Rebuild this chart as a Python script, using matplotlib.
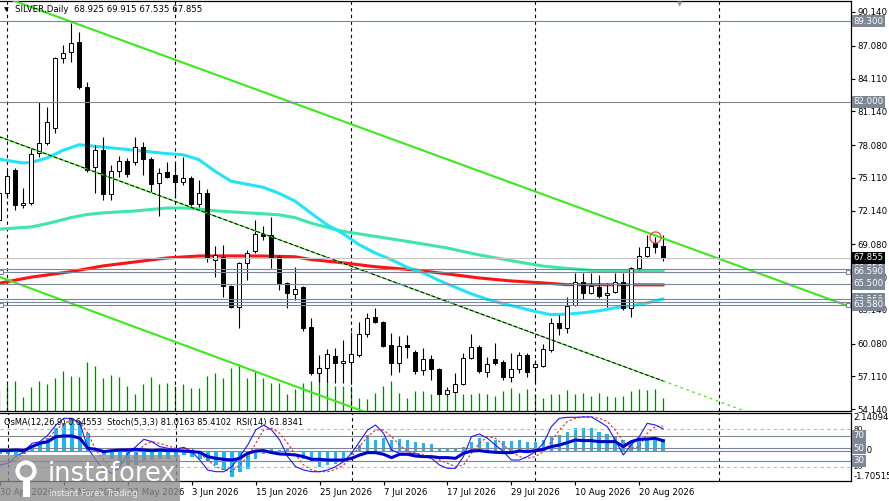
import numpy as np
import matplotlib.pyplot as plt
from matplotlib.patches import Rectangle, Circle
from matplotlib.transforms import blended_transform_factory as blend

plt.rcParams['font.family'] = ['DejaVu Sans']

# daily bars, weekdays only: index -1 = 30 Apr 2026, 0 = 1 May 2026, 82 = 25 Aug 2026
bar_idx = np.arange(-1, 83)

opens = [71.30, 73.73, 75.81, 72.64, 72.82, 77.36, 78.26, 79.62, 85.97, 86.51,
         87.42, 83.34, 76.09, 77.63, 73.64, 75.72, 76.63, 76.54, 77.90, 76.81,
         74.64, 75.63, 75.36, 74.73, 75.09, 72.73, 73.73, 67.66, 67.93, 65.30,
         63.39, 67.38, 68.47, 70.01, 69.92, 67.93, 65.57, 64.57, 65.21, 61.58,
         57.41, 57.87, 58.95, 58.32, 58.41, 59.04, 60.95, 62.49, 62.04, 59.95,
         58.32, 59.95, 59.32, 57.68, 58.68, 57.78, 55.51, 55.69, 56.41, 58.77,
         59.77, 57.50, 58.68, 58.41, 57.05, 57.78, 59.04, 57.96, 58.05, 59.50,
         61.94, 61.49, 63.58, 65.66, 64.66, 65.21, 64.48, 64.75, 65.66, 63.30,
         66.93, 68.02, 69.20, 68.925]
highs = [74.20, 75.80, 75.99, 74.18, 77.81, 81.98, 81.53, 86.06, 87.15, 89.14,
         88.33, 83.79, 78.08, 78.81, 76.27, 77.08, 76.90, 78.81, 78.35, 76.99,
         76.00, 76.54, 76.45, 76.99, 75.27, 74.91, 74.09, 68.93, 69.02, 65.39,
         67.47, 68.56, 71.28, 70.74, 71.55, 68.11, 65.66, 67.02, 65.30, 62.40,
         59.04, 59.59, 59.68, 60.40, 61.13, 62.04, 62.85, 63.30, 62.13, 61.04,
         60.77, 60.86, 59.50, 59.68, 59.04, 57.87, 56.14, 57.41, 59.22, 60.95,
         59.95, 58.86, 60.13, 58.59, 59.22, 59.32, 59.22, 58.59, 60.04, 62.40,
         62.67, 64.30, 66.48, 66.48, 66.48, 66.30, 65.57, 66.48, 66.48, 67.02,
         68.83, 69.92, 69.74, 69.915]
lows = [70.80, 73.30, 72.19, 72.37, 72.64, 76.99, 78.08, 79.17, 85.52, 85.61,
        83.16, 75.63, 73.73, 73.10, 73.10, 75.18, 75.18, 76.27, 75.36, 73.82,
        71.65, 75.09, 73.28, 74.46, 72.55, 72.46, 67.47, 66.12, 64.30, 63.30,
        61.49, 65.84, 68.29, 69.47, 66.93, 64.94, 63.30, 64.03, 61.22, 57.23,
        56.59, 56.59, 56.50, 56.50, 56.50, 58.86, 60.68, 61.94, 59.77, 57.23,
        57.50, 58.77, 57.32, 57.23, 56.78, 55.42, 55.42, 55.60, 56.32, 58.68,
        57.41, 57.05, 58.14, 56.78, 56.59, 57.41, 57.05, 56.50, 57.96, 59.32,
        60.86, 61.04, 63.49, 64.12, 64.57, 64.21, 63.39, 64.66, 63.12, 62.49,
        66.75, 67.93, 68.29, 67.535]
closes = [73.73, 75.27, 72.64, 72.82, 77.27, 78.26, 80.17, 85.97, 86.42, 87.33,
          83.34, 75.81, 77.63, 73.64, 75.72, 76.63, 75.45, 77.90, 76.81, 74.55,
          75.54, 75.18, 74.73, 75.09, 72.73, 73.73, 67.84, 68.11, 65.30, 63.39,
          67.38, 68.29, 70.01, 69.83, 67.93, 65.57, 64.66, 65.03, 61.49, 57.41,
          57.87, 59.13, 58.32, 58.50, 59.13, 60.95, 62.40, 62.04, 59.86, 58.32,
          59.86, 59.77, 57.59, 58.68, 57.78, 55.51, 55.87, 56.41, 58.77, 59.77,
          57.59, 58.23, 58.32, 57.05, 57.78, 59.04, 57.50, 58.23, 59.59, 61.94,
          61.49, 63.49, 65.66, 64.66, 65.30, 64.39, 64.66, 65.66, 63.30, 66.93,
          68.02, 68.83, 68.83, 67.855]
volume_k = [20, 27, 30, 14, 24, 30, 27, 33, 40, 35,
            34, 49, 45, 33, 36, 34, 25, 17, 27, 34,
            27, 28, 25, 27, 23, 23, 35, 38, 33, 43,
            47, 33, 40, 33, 28, 28, 17, 22, 28, 30,
            45, 30, 25, 25, 25, 13, 12, 18, 25, 30,
            18, 13, 20, 20, 17, 18, 17, 18, 17, 17,
            18, 17, 15, 20, 23, 18, 22, 17, 13, 17,
            17, 21, 17, 18, 15, 18, 15, 14, 15, 20,
            22, 21, 22, 13]

# moving averages, read at selected bars
ma_fast_idx = [-1, 2, 3, 5, 7, 9, 12, 16, 20, 22, 24, 26, 28, 32, 34, 36, 38, 40, 42, 44,
               46, 48, 50, 52, 54, 56, 58, 60, 62, 64, 66, 68, 70, 72, 74, 76, 78, 80, 82]
ma_fast = [76.80, 76.45, 76.50, 76.90, 77.60, 78.10, 77.90, 77.60, 77.30, 77.20,
           76.75, 75.70, 74.80, 74.25, 73.70, 73.00, 71.90, 70.85, 70.05, 69.05,
           68.30, 67.70, 67.00, 66.50, 65.80, 65.20, 64.60, 64.10, 63.70, 63.35,
           63.00, 62.70, 62.75, 62.87, 63.05, 63.32, 63.50, 63.76, 64.12]
ma_mid_idx = [-1, 3, 5, 8, 10, 12, 16, 20, 22, 24, 26, 28, 32, 34, 36, 38, 42, 46, 50, 55,
              59, 63, 67, 70, 74, 78, 82]
ma_mid = [70.45, 70.65, 70.95, 71.50, 71.78, 71.93, 72.10, 72.37, 72.37, 72.28,
          72.12, 72.02, 71.85, 71.75, 71.50, 71.00, 70.25, 69.80, 69.35, 68.75,
          68.12, 67.60, 67.10, 66.90, 66.66, 66.66, 66.66]
ma_slow_idx = [-1, 3, 8, 12, 16, 20, 24, 28, 32, 36, 38, 42, 46, 51, 55, 59, 63, 67, 70, 82]
ma_slow = [65.55, 66.10, 66.60, 67.12, 67.48, 67.84, 68.02, 68.03, 68.02, 67.95,
           67.70, 67.40, 67.05, 66.75, 66.40, 66.03, 65.76, 65.58, 65.42, 65.40]

# channel anchors (bar index, price)
chan_upper = ([8.125, 105.5], [89.23, 63.39])
chan_mid = ([-0.875, 69.125], [78.81, 60.13])
chan_lower = ([-0.875, 36.625], [66.11, 56.05])

levels = [89.30, 82.00, 66.85, 66.59, 65.50, 64.10, 63.85, 63.58]
handle_levels = [66.59, 63.58]
last_price = 67.855
price_ticks = [54.14, 57.11, 60.08, 63.14, 66.11, 69.08, 72.14, 75.11, 78.08, 81.14,
               84.11, 87.08, 90.14]
separators = [0, 21, 43, 66, 89]
date_idx = [-1, 7, 15, 23, 31, 39, 47, 55, 63, 71, 79]
date_labels = ['30 Apr 2026', '12 May 2026', '22 May 2026', '3 Jun 2026', '15 Jun 2026',
               '25 Jun 2026', '7 Jul 2026', '17 Jul 2026', '29 Jul 2026', '10 Aug 2026',
               '20 Aug 2026']

# oscillators
osma = [-0.15, -0.15, -0.30, -0.20, 0.13, 0.42, 0.71, 1.28, 1.57, 1.85,
        1.66, 0.99, 0.10, -0.25, -0.44, -0.73, -0.82, -0.82, -0.63, -0.54,
        -0.44, -0.44, -0.34, -0.25, -0.34, -0.44, -0.63, -0.82, -1.11, -1.49,
        -1.21, -1.01, -0.44, -0.15, 0.10, 0.05, 0.10, -0.05, -0.44, -0.63,
        -0.92, -0.82, -0.73, -0.44, -0.25, 0.32, 0.90, 0.61, 0.71, 0.61,
        0.67, 0.61, 0.52, 0.46, 0.38, 0.17, 0.13, 0.10, 0.23, 0.52,
        0.71, 0.52, 0.61, 0.57, 0.57, 0.61, 0.52, 0.52, 0.61, 0.80,
        0.90, 1.05, 1.28, 1.28, 1.28, 1.09, 0.94, 0.86, 0.61, 0.52,
        0.67, 0.67, 0.67, 0.646]
stoch_main = [23.0, 25.8, 36.5, 44.5, 57.8, 60.5, 71.1, 87.1, 97.8, 97.8,
              89.8, 49.8, 31.1, 15.1, 9.8, 20.5, 41.8, 52.5, 64.2, 60.5,
              52.5, 49.8, 48.2, 51.4, 44.5, 31.1, 15.1, 12.4, 12.4, 20.5,
              36.5, 55.1, 79.1, 87.1, 79.1, 63.1, 36.5, 20.5, 15.1, 12.4,
              12.4, 15.1, 20.5, 28.5, 41.8, 60.5, 79.1, 87.1, 73.8, 47.1,
              41.8, 41.8, 41.8, 36.5, 33.8, 23.1, 17.8, 17.8, 36.5, 68.5,
              72.7, 65.8, 55.1, 44.5, 31.1, 31.1, 36.5, 44.5, 57.8, 84.5,
              97.8, 99.4, 99.4, 100.0, 100.0, 92.5, 84.5, 63.1, 39.1, 55.1,
              68.5, 89.8, 87.1, 81.0163]
stoch_signal = [23.0, 25.8, 31.1, 41.8, 52.5, 57.8, 65.8, 79.1, 89.8, 95.1,
                92.5, 73.8, 47.1, 31.1, 17.8, 15.1, 23.1, 39.1, 55.1, 60.5,
                57.8, 53.5, 49.8, 49.8, 48.2, 41.8, 31.1, 20.5, 15.1, 12.4,
                23.1, 36.5, 57.8, 79.1, 81.8, 73.8, 57.8, 39.1, 23.1, 15.1,
                12.4, 12.4, 16.2, 23.1, 36.5, 52.5, 68.5, 79.1, 79.1, 68.5,
                55.1, 44.5, 41.8, 39.1, 36.5, 31.1, 25.8, 20.5, 23.1, 41.8,
                57.8, 68.5, 65.8, 55.1, 44.5, 36.5, 33.8, 36.5, 44.5, 60.5,
                79.1, 92.5, 97.8, 100.0, 100.0, 97.8, 92.5, 79.1, 60.5, 49.8,
                52.5, 73.8, 84.5, 85.4102]
rsi = [46.1, 46.1, 47.1, 46.1, 52.5, 57.8, 60.5, 68.5, 69.5, 69.5,
       65.8, 49.8, 48.2, 44.5, 46.1, 47.1, 47.1, 48.2, 47.1, 46.1,
       47.1, 46.1, 46.1, 45.5, 44.5, 43.4, 36.5, 33.8, 32.2, 31.1,
       33.8, 41.8, 45.5, 46.1, 42.9, 40.7, 40.2, 39.1, 36.5, 32.2,
       32.2, 31.1, 31.1, 31.1, 33.8, 39.1, 42.9, 42.9, 40.2, 34.9,
       40.2, 40.2, 37.5, 36.5, 36.5, 34.9, 34.9, 33.8, 41.8, 45.5,
       46.1, 44.5, 43.4, 42.9, 42.9, 45.5, 44.5, 46.1, 48.2, 52.5,
       55.1, 58.9, 63.1, 62.1, 62.1, 60.5, 60.5, 60.5, 52.5, 60.5,
       64.2, 64.7, 65.8, 61.8341]

W, H = 889, 501
LEVEL_C = '#7b8797'
BOX_C = '#7d8796'
FS = 6.2


def rect(x0, y0, x1, y1):
    return [x0 / W, 1 - y1 / H, (x1 - x0) / W, (y1 - y0) / H]


fig = plt.figure(figsize=(W / 100, H / 100), dpi=100)
ax = fig.add_axes(rect(0, 1, 851, 411))
ax_vol = ax.twinx()
ax.set_zorder(ax_vol.get_zorder() + 1)
ax.patch.set_visible(False)
ax_ind = fig.add_axes(rect(0, 413, 851, 481))
ax_osc = ax_ind.twinx()

x_lo, x_hi = -0.875, 105.5
for a in (ax, ax_ind):
    a.set_xlim(x_lo, x_hi)
ax.set_ylim(53.967, 91.137)
ax_vol.set_ylim(0, 410)
ax_ind.set_ylim(-1.70515, 2.14094)
ax_osc.set_ylim(-2.5, 106.3)

# volume
ax_vol.vlines(bar_idx, 0, volume_k, color='#0b7d0b', lw=0.9)

# moving averages
ax.plot(ma_mid_idx, ma_mid, color='#3ee6a8', lw=2.2, zorder=2)
ax.plot(ma_slow_idx, ma_slow, color='#ff1414', lw=2.2, zorder=2)
ax.plot(ma_fast_idx, ma_fast, color='#22e4f7', lw=2.2, zorder=2)

# candles
o, h, l, c = map(np.array, (opens, highs, lows, closes))
up = c >= o
ax.vlines(bar_idx, l, h, color='black', lw=0.8, zorder=4)
ax.bar(bar_idx, np.maximum(np.abs(c - o), 0.08), bottom=np.minimum(o, c), width=0.62,
       color=np.where(up, 'white', 'black'), edgecolor='black', linewidth=0.7, zorder=5)


def chan_line(anchor, x0, x1):
    (xa, xb), (ya, yb) = anchor
    k = (yb - ya) / (xb - xa)
    xs = np.array([x0, x1])
    return xs, ya + k * (xs - xa)


xs, ys = chan_line(chan_upper, -1, 106)
ax.plot(xs, ys, color='#3aea1a', lw=1.5, zorder=6)
xs, ys = chan_line(chan_lower, -1, 60)
ax.plot(xs, ys, color='#3aea1a', lw=1.5, zorder=6)
xs, ys = chan_line(chan_mid, -1, bar_idx[-1])
ax.plot(xs, ys, color='#3aea1a', lw=0.9, zorder=6)
ax.plot(xs, ys, color='black', lw=0.7, ls=(0, (4, 2)), zorder=6)
xs, ys = chan_line(chan_mid, bar_idx[-1], 106)
ax.plot(xs, ys, color='#3aea1a', lw=0.9, ls=(0, (2, 3)), zorder=6)

# horizontal levels
ax.axhline(last_price, color='#c4c4c4', lw=0.8, zorder=6)
for lv in levels:
    ax.axhline(lv, color=LEVEL_C, lw=0.8, zorder=6)
ax.plot([x_lo + 0.12] * 2 + [x_hi - 0.35] * 2, handle_levels * 2, ls='none', marker='s',
        ms=3.5, mfc='white', mec=LEVEL_C, mew=0.8, zorder=7, clip_on=False)

# arrow mark at the high of 24 Aug
ax.plot(bar_idx[-2], highs[-2], marker='o', ms=8, mfc='none', mec='#ff3b3b', mew=0.9, zorder=7)

# period separators
for a in (ax, ax_ind):
    for s in separators:
        a.axvline(s, color='black', lw=0.8, ls=(0, (3, 3)), zorder=1)

# axes styling
ax.yaxis.tick_right()
ax.set_yticks(price_ticks)
ax.set_yticklabels(['%.3f' % p for p in price_ticks])
ax.tick_params(axis='y', which='both', right=True, left=False, direction='out', length=3,
               width=0.8, pad=1.5, labelsize=FS, colors='black')
ax.tick_params(axis='x', bottom=False, labelbottom=False)
ax_vol.set_yticks([])
ax_osc.set_yticks([])
ax_ind.set_yticks([])
for sp in ax_vol.spines.values():
    sp.set_visible(False)
for sp in ax_osc.spines.values():
    sp.set_visible(False)
for a in (ax, ax_ind):
    a.spines['left'].set_visible(False)
    for k in ('top', 'right', 'bottom'):
        a.spines[k].set_linewidth(0.9)

ytr = blend(ax.transAxes, ax.transData)
for lv in levels:
    ax.text(1.003, lv, '%.3f' % lv, transform=ytr, fontsize=FS, color='white', ha='left',
            va='center', clip_on=False, zorder=10,
            bbox=dict(boxstyle='square,pad=0.18', fc=BOX_C, ec='none'))
ax.text(1.003, last_price, '%.3f' % last_price, transform=ytr, fontsize=FS, color='white',
        ha='left', va='center', clip_on=False, zorder=10,
        bbox=dict(boxstyle='square,pad=0.18', fc='black', ec='none'))

# indicator window
ax_ind.bar(bar_idx, osma, width=0.45, color='#1cb8f5', zorder=2)
ax_ind.axhline(0, color=LEVEL_C, lw=0.8, zorder=1)
for lv in (80, 20):
    ax_osc.axhline(lv, color='#b8b8b8', lw=0.8, ls=(0, (3, 3)), zorder=1)
for lv in (70, 50, 30):
    ax_osc.axhline(lv, color=LEVEL_C, lw=0.8, zorder=1)
ax_osc.plot(bar_idx, stoch_signal, color='#ff1a1a', lw=0.8, ls=(0, (2, 2)), zorder=3)
ax_osc.plot(bar_idx, stoch_main, color='#1a1aff', lw=0.8, zorder=3)
ax_osc.plot(bar_idx, rsi, color='#0000cd', lw=2.2, zorder=4)

ax_ind.set_xticks(date_idx)
ax_ind.set_xticklabels(date_labels, ha='left')
ax_ind.tick_params(axis='x', direction='out', length=3, width=0.8, pad=2, labelsize=FS)

itr = blend(ax_ind.transAxes, ax_ind.transData)
otr = blend(ax_osc.transAxes, ax_osc.transData)
ax_ind.text(1.003, 2.14094, '2.14094', transform=itr, fontsize=FS, ha='left', va='top',
            clip_on=False)
ax_ind.text(1.003, 0, '0.00', transform=itr, fontsize=FS, ha='left', va='center',
            clip_on=False)
ax_ind.text(1.003, -1.70515, '-1.70515', transform=itr, fontsize=FS, ha='left', va='bottom',
            clip_on=False)
for lv in (80, 20):
    ax_osc.text(1.003, lv, str(lv), transform=otr, fontsize=FS - 0.8, ha='left', va='center',
                clip_on=False)
for lv in (70, 50, 30):
    ax_osc.text(1.003, lv, str(lv), transform=otr, fontsize=FS, color='white', ha='left',
                va='center', clip_on=False, zorder=10,
                bbox=dict(boxstyle='square,pad=0.18', fc=BOX_C, ec='none'))

# captions
fig.text(4 / W, 1 - 10 / H, '\u25bc', fontsize=4.5, va='center')
fig.text(15 / W, 1 - 10 / H, 'SILVER,Daily  68.925 69.915 67.535 67.855', fontsize=FS,
         va='center')
fig.text(4 / W, 1 - 423 / H,
         'OsMA(12,26,9) 0.64553  Stoch(5,3,3) 81.0163 85.4102  RSI(14) 61.8341',
         fontsize=5.95, va='center')
fig.text(680 / W, 1 - 4 / H, '\u25bc', fontsize=5, color='#9a9a9a', ha='center', va='center')

# watermark
fig.add_artist(Rectangle((0, 0), 180 / W, 46 / H, transform=fig.transFigure,
                         fc='#8c8c8c', ec='none', alpha=0.78, zorder=20))
fig.add_artist(Circle((0.26, 0.30), 0.085, transform=fig.dpi_scale_trans, fc='none',
                      ec='white', lw=3, zorder=21))
fig.add_artist(Rectangle((0.225, 0.04), 0.07, 0.17, transform=fig.dpi_scale_trans,
                         fc='white', ec='none', zorder=21))
fig.text(48 / W, 1 - 474 / H, 'instaforex', fontsize=18.5, color='white', va='center',
         zorder=22)
fig.text(49 / W, 1 - 493 / H, 'Instant Forex Trading', fontsize=6, color='#eeeeee',
         va='center', zorder=22)

fig.savefig('out.png', dpi=100)
